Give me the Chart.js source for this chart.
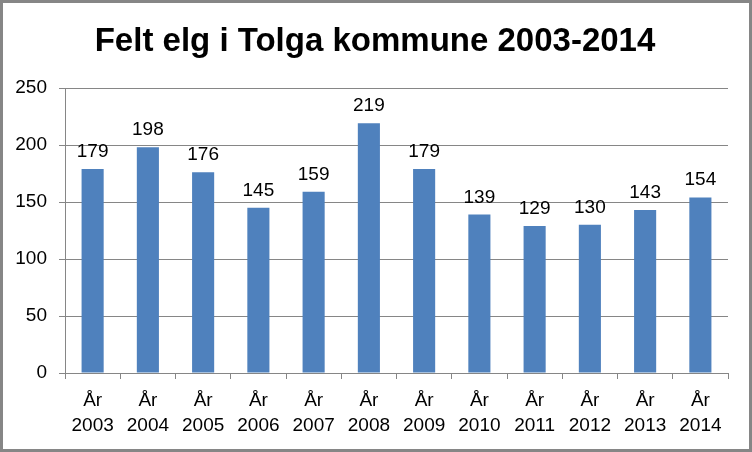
<!DOCTYPE html>
<html><head><meta charset="utf-8">
<script src="https://cdn.jsdelivr.net/npm/chart.js@4/dist/chart.umd.min.js"></script>
<style>html,body{margin:0;padding:0;background:#fff}#wrap{width:752px;height:452px}</style>
</head><body><div id="wrap"><canvas id="c" width="752" height="452"></canvas></div>
<script>
const categories = [["År","2003"],["År","2004"],["År","2005"],["År","2006"],["År","2007"],["År","2008"],["År","2009"],["År","2010"],["År","2011"],["År","2012"],["År","2013"],["År","2014"]];
const values = [179,198,176,145,159,219,179,139,129,130,143,154];
const yTicks = [0,50,100,150,200,250];
const titleText = "Felt elg i Tolga kommune 2003-2014";
const FONT = "'Liberation Sans', Arial, sans-serif";

const extras = {
  id:'extras',
  afterDraw(chart){
    const ctx = chart.ctx;
    ctx.save();
    ctx.strokeStyle = '#868686'; ctx.lineWidth = 3;
    ctx.strokeRect(1.5,1.5,749,449);
    ctx.fillStyle = '#000';
    ctx.font = "bold 33px 'Liberation Sans', sans-serif";
    ctx.textAlign = 'center'; ctx.textBaseline = 'middle';
    ctx.fillText(titleText, 375, 42);
    ctx.font = "19px " + FONT;
    ctx.textBaseline = 'alphabetic';
    const meta = chart.getDatasetMeta(0);
    meta.data.forEach((bar,i)=>{
      ctx.fillText(String(values[i]), bar.x, bar.y - 12);
    });
    ctx.restore();
  }
};

new Chart(document.getElementById('c'), {
  type:'bar',
  data:{labels:categories, datasets:[{data:values, backgroundColor:'#4F81BD', barPercentage:0.4, categoryPercentage:1}]},
  options:{
    responsive:false, animation:false,
    layout:{padding:{left:0,right:24,top:88,bottom:0}},
    plugins:{legend:{display:false}, title:{display:false}, tooltip:{enabled:false}},
    scales:{
      y:{min:0,max:250,
        afterBuildTicks(s){ s.ticks = yTicks.map(v=>({value:v})); },
        afterFit(s){ s.width = 65; },
        border:{color:'#868686',width:1},
        grid:{color:'#868686', tickLength:6, drawTicks:true},
        ticks:{color:'#000', font:{family:FONT,size:19}, padding:12}
      },
      x:{
        afterFit(s){ s.height = 79; },
        border:{color:'#868686',width:1},
        grid:{color:'#868686', drawOnChartArea:false, tickLength:6, offset:true},
        ticks:{color:'#000', font:{family:FONT,size:19, lineHeight:1.32}, padding:9, maxRotation:0, autoSkip:false}
      }
    }
  },
  plugins:[extras]
});
</script></body></html>
